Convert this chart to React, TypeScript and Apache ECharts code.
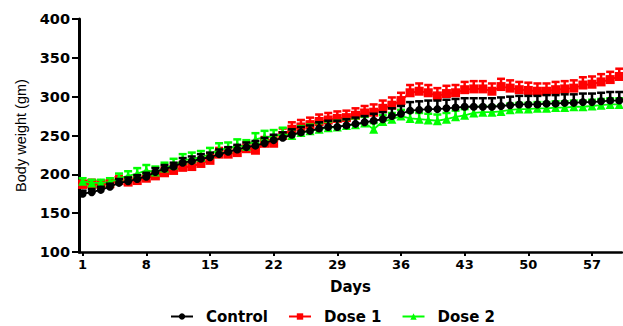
import React, { useEffect, useRef } from "react";
import * as echarts from "echarts";

const days = Array.from({ length: 60 }, (_, i) => i + 1);
const xTickValues = [1, 8, 15, 22, 29, 36, 43, 50, 57];

const controlMean = [175, 177, 180, 184, 189, 191, 194, 197, 203, 207, 210, 215, 217, 220, 222, 226, 229, 232, 235, 237, 240, 244, 247, 251, 254, 256, 259, 261, 261, 263, 265, 267, 269, 271, 275, 278, 282, 283, 284, 284, 285, 286, 287, 287, 287, 287, 288, 289, 290, 290, 290, 291, 291, 292, 292, 293, 293, 294, 295, 295];
const controlErr = [4, 4, 4, 4, 5, 5, 5, 5, 5, 5, 5, 6, 6, 6, 6, 6, 6, 6, 6, 6, 7, 7, 7, 7, 7, 7, 8, 8, 8, 8, 8, 8, 9, 9, 10, 10, 11, 11, 11, 11, 11, 11, 11, 11, 11, 11, 11, 11, 11, 11, 11, 11, 11, 11, 11, 11, 11, 11, 11, 11];

const dose1Mean = [187, 188, 187, 188, 192, 190, 192, 195, 198, 202, 205, 209, 210, 214, 218, 226, 226, 228, 233, 231, 240, 240, 250, 258, 261, 264, 268, 270, 272, 273, 276, 279, 280, 285, 289, 295, 305, 307, 305, 301, 304, 305, 309, 310, 310, 307, 313, 311, 309, 308, 307, 307, 309, 310, 311, 315, 316, 319, 322, 326];
const dose1Err = [5, 5, 5, 5, 6, 6, 6, 6, 6, 7, 7, 7, 7, 7, 8, 8, 8, 8, 8, 8, 8, 8, 9, 9, 9, 9, 9, 9, 9, 9, 9, 9, 10, 10, 10, 10, 10, 10, 10, 10, 10, 10, 10, 10, 10, 10, 10, 10, 10, 10, 10, 10, 10, 10, 10, 10, 10, 10, 10, 10];

const dose2Mean = [191, 189, 189, 190, 195, 198, 201, 205, 203, 208, 212, 218, 220, 222, 226, 232, 233, 237, 236, 245, 248, 249, 252, 250, 254, 256, 258, 260, 261, 263, 264, 266, 258, 268, 271, 275, 272, 271, 270, 269, 271, 274, 276, 279, 280, 280, 281, 283, 284, 284, 285, 285, 286, 286, 287, 287, 288, 289, 290, 290];
const dose2Err = [4, 4, 4, 5, 6, 6, 7, 7, 7, 7, 8, 8, 8, 8, 8, 8, 8, 8, 8, 8, 8, 8, 8, 8, 8, 8, 8, 8, 8, 8, 8, 8, 8, 8, 8, 8, 8, 8, 8, 8, 8, 8, 8, 8, 8, 8, 8, 8, 8, 8, 8, 8, 8, 8, 8, 8, 8, 8, 8, 8];

const BLACK = "#000000";
const RED = "#ff0000";
const GREEN = "#00ff00";

const boldFont = "DejaVu Sans";

function errSeries(name: string, mean: number[], err: number[], color: string, z: number) {
  return {
    name,
    type: "custom",
    z,
    silent: true,
    data: days.map((d, i) => [d, mean[i], err[i]]),
    renderItem: (params: any, api: any) => {
      const x = api.value(0);
      const y = api.value(1);
      const e = api.value(2);
      const p0 = api.coord([x, y]);
      const p1 = api.coord([x, y + e]);
      return {
        type: "group",
        children: [
          {
            type: "line",
            shape: { x1: p0[0], y1: p0[1], x2: p1[0], y2: p1[1] },
            style: { stroke: color, lineWidth: 2.5 },
          },
          {
            type: "line",
            shape: { x1: p1[0] - 4, y1: p1[1], x2: p1[0] + 4, y2: p1[1] },
            style: { stroke: color, lineWidth: 2.5 },
          },
        ],
      };
    },
  };
}

function lineSeries(name: string, mean: number[], color: string, symbol: string, size: number, z: number) {
  return {
    name,
    type: "line",
    z,
    data: days.map((d, i) => [d, mean[i]]),
    symbol,
    symbolSize: size,
    showAllSymbol: true,
    itemStyle: { color },
    lineStyle: { color, width: 1.8 },
  };
}

export default function App() {
  const ref = useRef<HTMLDivElement>(null);
  useEffect(() => {
    if (!ref.current) return;
    const chart = echarts.init(ref.current, undefined, { renderer: "svg" });
    chart.setOption({
      animation: false,
      backgroundColor: "#ffffff",
      grid: { left: 79, right: 1, top: 19, bottom: 74, containLabel: false },
      legend: {
        data: ["Control", "Dose 1", "Dose 2"],
        left: 170,
        top: 309,
        padding: 0,
        itemWidth: 22,
        itemHeight: 8,
        itemGap: 20,
        textStyle: {
          fontFamily: boldFont,
          fontWeight: "bold",
          fontSize: 15,
          color: "#000",
          padding: [0, 0, 0, 8],
        },
      },
      xAxis: {
        type: "value",
        min: 0.6,
        max: 60.3,
        name: "Days",
        nameLocation: "middle",
        nameGap: 27,
        nameTextStyle: { fontFamily: boldFont, fontWeight: "bold", fontSize: 15, color: "#000" },
        splitLine: { show: false },
        axisLine: { show: true, onZero: false, lineStyle: { color: "#000", width: 2.5 } },
        axisTick: { show: true, length: 4, lineStyle: { color: "#000", width: 2 }, customValues: xTickValues },
        axisLabel: {
          customValues: xTickValues,
          fontFamily: boldFont,
          fontWeight: "bold",
          fontSize: 13,
          color: "#000",
          margin: 6,
        },
      },
      yAxis: {
        type: "value",
        min: 100,
        max: 400,
        interval: 50,
        name: "Body weight (gm)",
        nameLocation: "middle",
        nameGap: 50,
        nameRotate: 90,
        nameTextStyle: { fontFamily: "Liberation Sans", fontSize: 14.5, color: "#000" },
        splitLine: { show: false },
        axisLine: { show: true, lineStyle: { color: "#000", width: 3 } },
        axisTick: { show: true, length: 7, lineStyle: { color: "#000", width: 2 } },
        axisLabel: {
          fontFamily: boldFont,
          fontWeight: "bold",
          fontSize: 14.5,
          color: "#000",
          margin: 9,
        },
      },
      series: [
        errSeries("Dose 1 SEM", dose1Mean, dose1Err, RED, 2),
        lineSeries("Dose 1", dose1Mean, RED, "rect", 9, 2),
        errSeries("Dose 2 SEM", dose2Mean, dose2Err, GREEN, 3),
        lineSeries("Dose 2", dose2Mean, GREEN, "triangle", 9, 3),
        errSeries("Control SEM", controlMean, controlErr, BLACK, 4),
        lineSeries("Control", controlMean, BLACK, "circle", 8, 4),
      ],
    });
    return () => chart.dispose();
  }, []);
  return (
    <div
      ref={ref}
      style={{ position: "absolute", left: 0, top: 0, width: 623, height: 326 }}
    />
  );
}
